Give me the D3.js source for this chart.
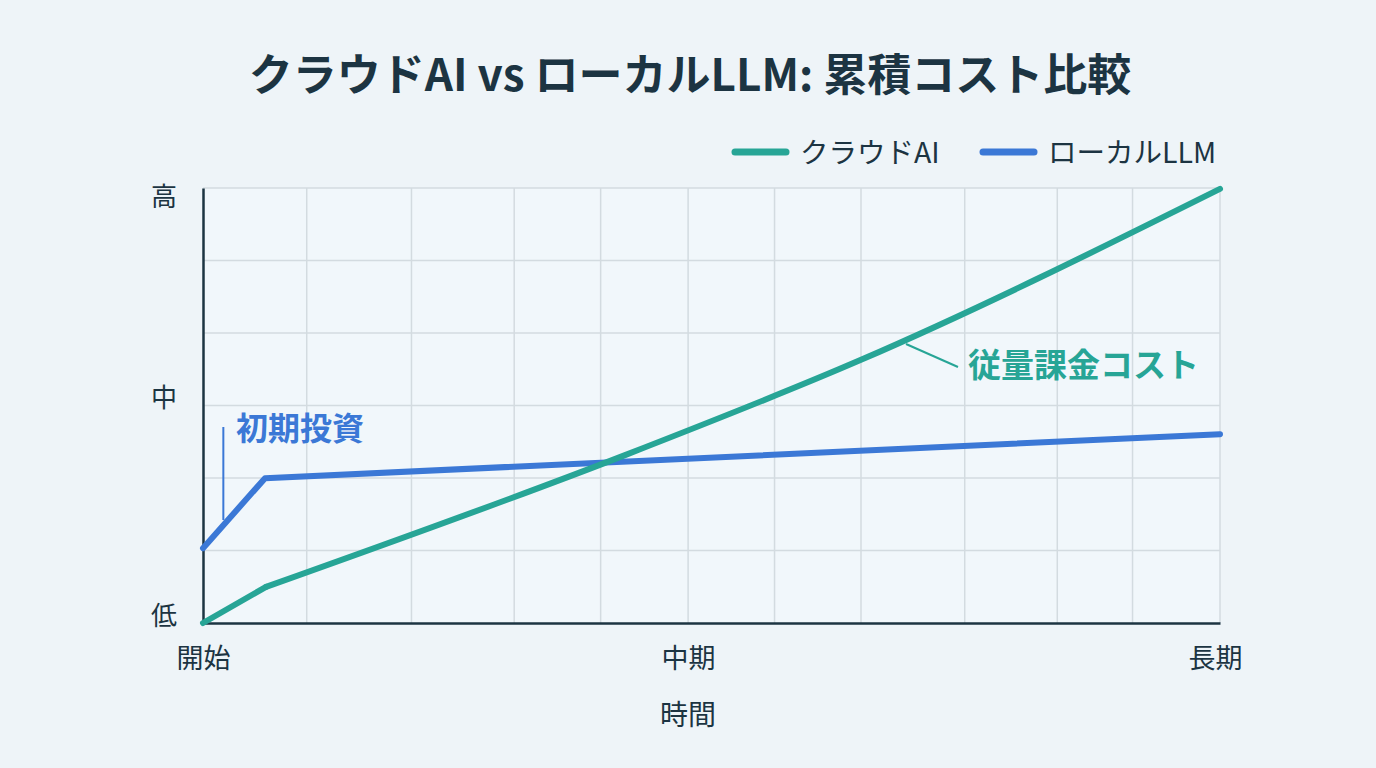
<!DOCTYPE html>
<html><head><meta charset="utf-8">
<script src="https://cdn.jsdelivr.net/npm/d3@7"></script>
<style>
html,body{margin:0;padding:0;background:#eef4f8;}
svg{display:block;font-family:"Noto Sans CJK JP","Noto Sans",sans-serif;}
</style></head><body>
<svg id="c" width="1376" height="768"></svg>
<script>
const title = "クラウドAI vs ローカルLLM: 累積コスト比較";
const seriesNames = ["クラウドAI","ローカルLLM"];
const cloudTime = [0, 6.2, 41.5, 64.7, 100];
const cloudCost = [0, 8.3, 38.6, 60.5, 99.8];
const localTime = [0, 6.1, 100];
const localCost = [17.2, 33.3, 43.4];
const xTickValues = [0, 47.7, 100];
const xTickLabels = ["開始","中期","長期"];
const xGridValues = [10.2, 20.5, 30.6, 39.1, 47.7, 56.2, 64.7, 74.9, 84.0, 91.4, 100];
const yTickValues = [1.5, 51.7, 98];
const yTickLabels = ["低","中","高"];
const yGridValues = [16.67, 33.33, 50, 66.67, 83.33, 100];
const xAxisTitle = "時間";
const annotations = ["初期投資","従量課金コスト"];

const colors = {cloud:"#27a596", local:"#3b78d6", ink:"#1c3442"};
const svg = d3.select("#c");
const M = {l:203, r:1220, t:188, b:623};
const x = d3.scaleLinear().domain([0,100]).range([M.l, M.r]);
const y = d3.scaleLinear().domain([0,100]).range([M.b, M.t]);

svg.append("rect").attr("width",1376).attr("height",768).attr("fill","#eef4f8");
svg.append("rect").attr("x",M.l).attr("y",M.t).attr("width",M.r-M.l).attr("height",M.b-M.t).attr("fill","#f1f7fb");

// title
svg.append("text").attr("x",690).attr("y",91).attr("text-anchor","middle")
  .attr("font-size",44).attr("font-weight",700).attr("fill",colors.ink).text(title);

// grid
const g = svg.append("g");
g.selectAll("line.vg").data(xGridValues).join("line")
  .attr("x1",d=>x(d)).attr("x2",d=>x(d)).attr("y1",M.t).attr("y2",M.b)
  .attr("stroke","#d3dbe0").attr("stroke-width",1.5);
g.selectAll("line.hg").data(yGridValues).join("line")
  .attr("x1",M.l).attr("x2",M.r).attr("y1",d=>y(d)).attr("y2",d=>y(d))
  .attr("stroke","#d3dbe0").attr("stroke-width",1.5);

// axes
const xAxis = d3.axisBottom(x).tickValues(xTickValues).tickFormat((d,i)=>xTickLabels[i]).tickSize(0).tickPadding(26);
const xa = svg.append("g").attr("transform",`translate(0,${M.b})`).call(xAxis);
xa.select(".domain").attr("stroke",colors.ink).attr("stroke-width",2.5);
xa.selectAll("text").attr("font-size",27).attr("fill",colors.ink).attr("font-family","Noto Sans CJK JP")
  .attr("text-anchor",(d,i)=>i===2?"end":"middle").attr("dx",(d,i)=>i===2?22:0);
const yAxis = d3.axisLeft(y).tickValues(yTickValues).tickFormat((d,i)=>yTickLabels[i]).tickSize(0).tickPadding(39);
const ya = svg.append("g").attr("transform",`translate(${M.l},0)`).call(yAxis);
ya.select(".domain").attr("stroke",colors.ink).attr("stroke-width",2.5);
ya.selectAll("text").attr("font-size",26).attr("fill",colors.ink).attr("font-family","Noto Sans CJK JP")
  .attr("text-anchor","middle");

svg.append("text").attr("x",688).attr("y",725).attr("text-anchor","middle")
  .attr("font-size",28).attr("fill",colors.ink).text(xAxisTitle);

// lines
const line = d3.line().x(d=>x(d[0])).y(d=>y(d[1]));
const smooth = d3.line().x(d=>x(d[0])).y(d=>y(d[1])).curve(d3.curveMonotoneX);
svg.append("path").datum(localTime.map((t,i)=>[t,localCost[i]]))
  .attr("d",line).attr("fill","none").attr("stroke",colors.local).attr("stroke-width",6)
  .attr("stroke-linecap","round").attr("stroke-linejoin","round");
const cloudPts = cloudTime.map((t,i)=>[t,cloudCost[i]]);
svg.append("path").datum(cloudPts.slice(0,2))
  .attr("d",line).attr("fill","none").attr("stroke",colors.cloud).attr("stroke-width",6)
  .attr("stroke-linecap","round").attr("stroke-linejoin","round");
svg.append("path").datum(cloudPts.slice(1))
  .attr("d",smooth).attr("fill","none").attr("stroke",colors.cloud).attr("stroke-width",6)
  .attr("stroke-linecap","round").attr("stroke-linejoin","round");

// annotations
const a1x = x(2);
svg.append("line").attr("x1",a1x).attr("x2",a1x).attr("y1",427).attr("y2",520)
  .attr("stroke",colors.local).attr("stroke-width",2);
svg.append("text").attr("x",236).attr("y",440).attr("font-size",32).attr("font-weight",700)
  .attr("fill",colors.local).text(annotations[0]);
svg.append("line").attr("x1",906).attr("y1",344).attr("x2",958).attr("y2",367)
  .attr("stroke",colors.cloud).attr("stroke-width",2);
svg.append("text").attr("x",968).attr("y",377).attr("font-size",33).attr("font-weight",700)
  .attr("fill",colors.cloud).text(annotations[1]);

// legend
const leg = svg.append("g");
const items = [{n:seriesNames[0],c:colors.cloud,x:735,tx:800},{n:seriesNames[1],c:colors.local,x:983,tx:1048}];
items.forEach(it=>{
  leg.append("line").attr("x1",it.x).attr("x2",it.x+51).attr("y1",152).attr("y2",152)
    .attr("stroke",it.c).attr("stroke-width",7).attr("stroke-linecap","round");
  leg.append("text").attr("x",it.tx).attr("y",163).attr("font-size",28.5).attr("fill",colors.ink).text(it.n);
});
</script></body></html>
